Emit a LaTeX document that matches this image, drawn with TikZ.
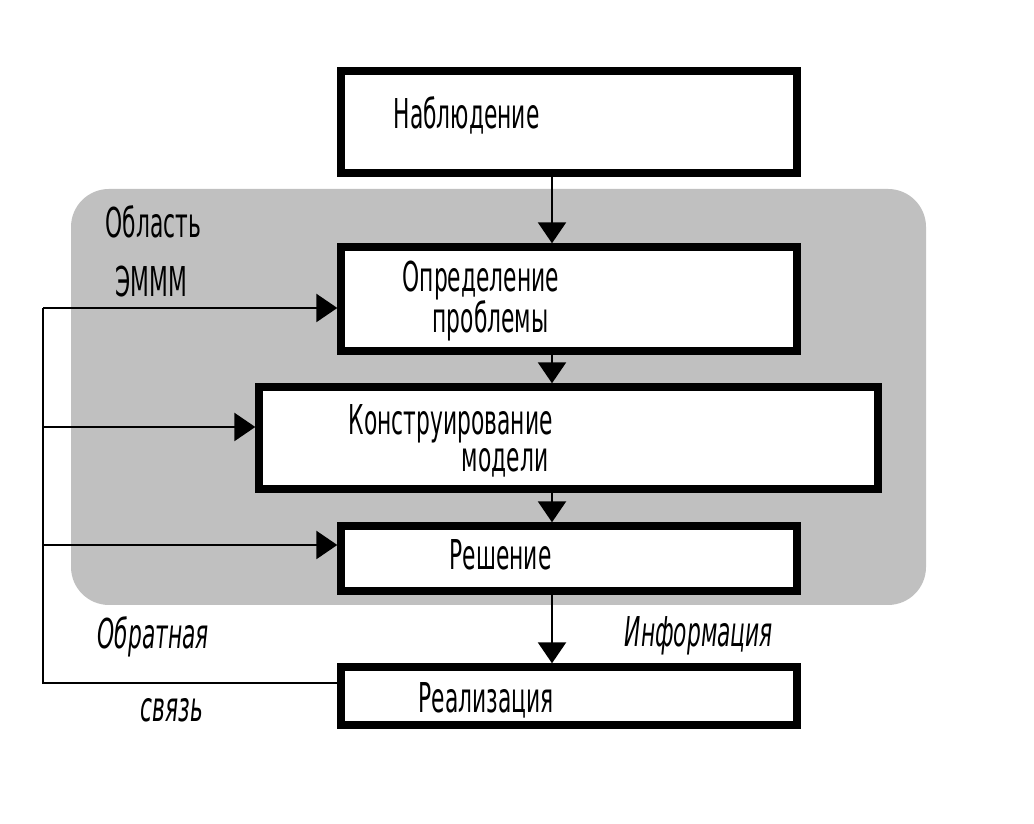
\documentclass[tikz,border=0pt]{standalone}
\usepackage{fontspec}
\setmainfont{DejaVu Sans}[FakeStretch=0.53]
\usetikzlibrary{arrows.meta}
\definecolor{areagray}{RGB}{192,192,192}
\tikzset{
  box/.style={draw=black, fill=white, line width=2.1pt, inner sep=0pt},
  lbl/.style={anchor=base west, inner sep=0pt, font=\fontsize{11.7pt}{14pt}\selectfont},
  arr/.style={-{Triangle[length=0.21cm,width=0.28cm]}, line width=0.7pt},
  thinline/.style={line width=0.7pt}
}
\begin{document}
\begin{tikzpicture}
      \useasboundingbox (0,0) rectangle (10.34,8.24);
      % area of the model
      \fill[areagray, rounded corners=0.38cm] (0.71,2.19) rectangle (9.26,6.35);
      \draw (1.05,5.86) node[lbl] (obl) {Область};
      \draw (1.15,5.27) node[lbl] (emmm) {ЭМММ};
      % boxes
      \node[box, minimum width=4.56cm, minimum height=1.02cm] (nabl) at (5.69,7.02) {};
      \node[box, minimum width=4.56cm, minimum height=1.04cm] (opred) at (5.69,5.25) {};
      \node[box, minimum width=6.19cm, minimum height=1.02cm] (konstr) at (5.685,3.86) {};
      \node[box, minimum width=4.56cm, minimum height=0.65cm] (resh) at (5.69,2.655) {};
      \node[box, minimum width=4.56cm, minimum height=0.58cm] (real) at (5.69,1.28) {};
      \draw (3.93,6.95) node[lbl] (nabl-t) {Наблюдение};
      \draw (4.02,5.32) node[lbl] (opred-t1) {Определение};
      \draw (4.32,4.91) node[lbl] (opred-t2) {проблемы};
      \draw (3.48,3.89) node[lbl] (konstr-t1) {Конструирование};
      \draw (5.49,3.52) node[lbl, anchor=base east] (konstr-t2) {модели};
      \draw (4.49,2.54) node[lbl] (resh-t) {Решение};
      \draw (4.18,1.11) node[lbl] (real-t) {Реализация};
      \draw (6.24,1.77) node[lbl, font=\fontsize{11.7pt}{14pt}\selectfont\itshape] (info) {Информация};
      \draw (0.97,1.75) node[lbl, font=\fontsize{11.7pt}{14pt}\selectfont\itshape] (obr1) {Обратная};
      \draw (1.40,1.02) node[lbl, font=\fontsize{11.7pt}{14pt}\selectfont\itshape] (obr2) {связь};
      % main chain
      \coordinate (axis) at (5.52,0);
      \draw[arr] (nabl.south -| axis) -- (opred.north -| axis);
      \draw[arr] (opred.south -| axis) -- (konstr.north -| axis);
      \draw[arr] (konstr.south -| axis) -- (resh.north -| axis);
      \draw[arr] (resh.south -| axis) -- (real.north -| axis);
      % feedback
      \coordinate (fb1) at (0.43,5.16);
      \coordinate (fb2) at (0.43,3.97);
      \coordinate (fb3) at (0.43,2.79);
      \coordinate (fb4) at (0.43,1.41);
      \draw[thinline] (real.west |- fb4) -- (fb4) -- (fb1);
      \draw[arr] (fb1) -- (opred.west |- fb1);
      \draw[arr] (fb2) -- (konstr.west |- fb2);
      \draw[arr] (fb3) -- (resh.west |- fb3);
     \end{tikzpicture}
\end{document}
